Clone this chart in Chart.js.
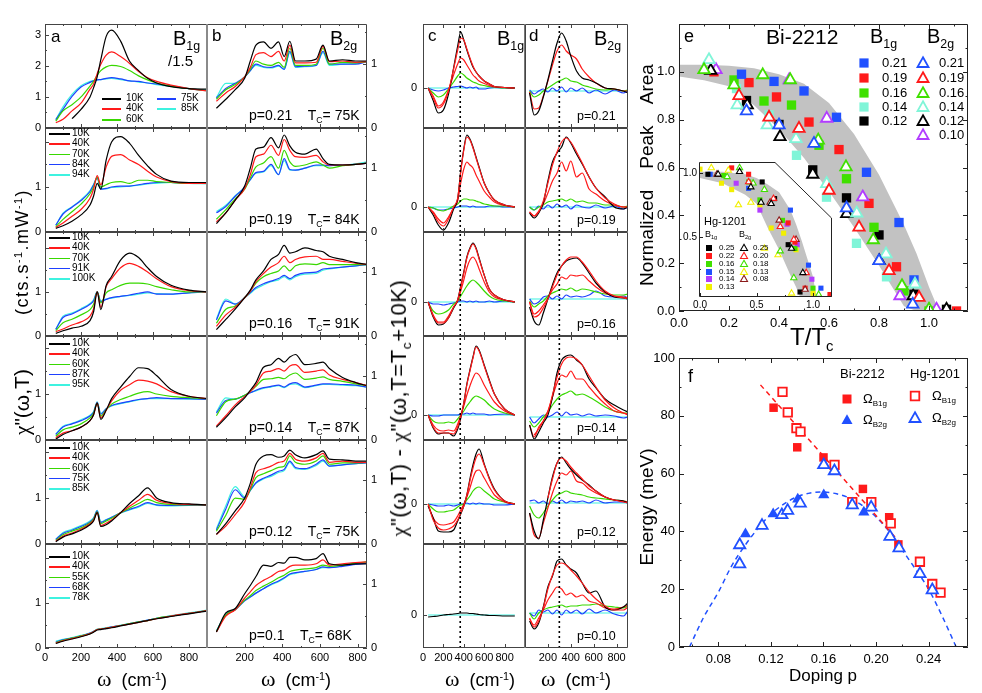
<!DOCTYPE html>
<html>
<head>
<meta charset="utf-8">
<script src="https://cdn.jsdelivr.net/npm/chart.js@4.4.1/dist/chart.umd.min.js"></script>
<style>
body { margin: 0; background: #fff; font-family: "Liberation Sans", Arial, sans-serif; }
#fig { position: relative; width: 982px; height: 693px; overflow: hidden; background: #fff; }
#fig canvas { position: absolute; }
.t { position: absolute; white-space: nowrap; color: #000; line-height: 1; }
</style>
</head>
<body>
<div id="fig"></div>
<script>
// ---- spectra x grids (cm-1) ----
const aX = [60,100,150,200,250,270,290,310,340,370,420,470,520,570,620,700,800,900];
const bX = [50,100,150,200,230,260,300,340,380,410,440,470,520,580,616,650,720,790,850];
const cX = [50,100,150,200,250,300,340,370,400,430,460,490,520,550,600,650,700,800,900];
const dX = [40,80,120,160,200,240,280,320,360,400,450,500,560,620,700,780,860,900];

// temperatures per row and doping labels
const aTemps = [['10K','40K','60K','75K','85K'], ['10K','40K','70K','84K','94K'], ['10K','40K','70K','91K','100K'],
                ['10K','40K','60K','87K','95K'], ['10K','40K','60K','75K','85K'], ['10K','40K','55K','68K','78K']];
const bDoping = ['0.21','0.19','0.16','0.14','0.12','0.1'];
const bTc = ['75K','84K','91K','87K','75K','68K'];
const dDoping = ['0.21','0.19','0.16','0.14','0.12','0.10'];

// panel a: B1g chi'' (10K, 40K, mid, ~Tc, >Tc)
const a1 = [
  [null,null,0.3,0.6,1.0,1.3,1.65,2.2,2.95,3.15,2.8,2.15,1.85,1.6,1.45,1.33,1.27,1.25],
  [0.17,0.28,0.55,0.8,1.25,1.42,1.75,2.05,2.35,2.45,2.3,2.08,1.82,1.62,1.5,1.38,1.27,1.2],
  [0.22,0.55,0.75,1.0,1.35,1.5,1.7,1.85,1.97,2.02,1.98,1.85,1.68,1.55,1.45,1.35,1.27,1.2],
  [0.27,0.6,1.02,1.32,1.47,1.52,1.55,1.56,1.6,1.62,1.58,1.52,1.5,1.45,1.42,1.35,1.27,1.2],
  [0.27,0.68,1.08,1.36,1.5,1.53,1.55,1.56,1.58,1.6,1.56,1.52,1.48,1.45,1.4,1.34,1.27,1.22]];
const a2 = [
  [0.08,0.14,0.24,0.38,0.6,0.8,1.08,0.95,1.6,2.0,2.12,1.97,1.7,1.47,1.28,1.13,1.1,1.1],
  [0.1,0.2,0.35,0.5,0.75,0.95,1.25,1.05,1.45,1.68,1.72,1.6,1.5,1.35,1.22,1.12,1.08,1.08],
  [0.12,0.28,0.45,0.62,0.85,1.0,1.22,1.0,1.05,1.1,1.12,1.08,1.15,1.15,1.12,1.1,1.08,1.08],
  [0.15,0.4,0.55,0.7,0.9,1.05,1.2,0.95,0.97,1.0,1.02,1.02,1.05,1.08,1.1,1.1,1.08,1.08],
  [0.15,0.42,0.56,0.72,0.92,1.06,1.2,0.97,0.96,0.99,1.0,1.02,1.04,1.07,1.08,1.1,1.08,1.07]];
const a3 = [
  [0.06,0.12,0.18,0.22,0.35,0.55,1.0,0.6,1.15,1.35,1.72,1.88,1.78,1.55,1.35,1.15,1.04,1.0],
  [0.1,0.16,0.25,0.32,0.45,0.62,1.0,0.65,1.12,1.3,1.55,1.65,1.58,1.45,1.3,1.12,1.03,1.0],
  [0.12,0.3,0.38,0.48,0.6,0.72,1.0,0.75,0.98,1.05,1.15,1.2,1.2,1.18,1.12,1.05,1.0,1.0],
  [0.15,0.42,0.5,0.6,0.72,0.8,1.0,0.78,0.83,0.87,0.9,0.93,0.97,1.0,0.95,0.95,0.98,1.0],
  [0.15,0.45,0.52,0.62,0.74,0.82,1.0,0.8,0.84,0.86,0.9,0.92,0.95,0.98,0.96,0.95,0.98,1.0]];
const a4 = [
  [0.02,0.12,0.2,0.28,0.42,0.55,0.8,0.45,0.65,0.9,1.15,1.38,1.57,1.55,1.4,1.1,0.95,0.9],
  [0.05,0.15,0.2,0.28,0.42,0.55,0.8,0.48,0.65,0.85,1.08,1.2,1.3,1.28,1.22,1.05,0.95,0.9],
  [0.08,0.22,0.28,0.35,0.48,0.58,0.8,0.52,0.66,0.78,0.88,0.95,1.02,1.05,1.0,0.95,0.92,0.9],
  [0.12,0.28,0.35,0.42,0.52,0.6,0.82,0.56,0.68,0.75,0.8,0.84,0.88,0.9,0.92,0.9,0.9,0.88],
  [0.13,0.3,0.36,0.44,0.54,0.62,0.83,0.58,0.68,0.74,0.79,0.83,0.87,0.9,0.9,0.9,0.89,0.88]];
const a5 = [
  [0.05,0.15,0.22,0.3,0.42,0.5,0.68,0.38,0.42,0.5,0.68,0.88,1.05,1.22,1.0,0.9,0.87,0.85],
  [0.06,0.17,0.24,0.32,0.44,0.52,0.68,0.4,0.45,0.52,0.68,0.82,0.95,1.08,0.95,0.88,0.86,0.85],
  [0.08,0.2,0.28,0.35,0.46,0.54,0.7,0.44,0.5,0.56,0.68,0.78,0.88,0.97,0.9,0.86,0.85,0.85],
  [0.1,0.23,0.3,0.38,0.48,0.56,0.72,0.47,0.52,0.58,0.68,0.75,0.82,0.9,0.85,0.84,0.84,0.84],
  [0.1,0.25,0.32,0.4,0.5,0.57,0.73,0.48,0.53,0.58,0.67,0.74,0.8,0.88,0.84,0.83,0.84,0.84]];
const a6 = [
  [0.1,0.15,0.2,0.25,0.31,0.35,0.4,0.41,0.43,0.45,0.49,0.53,0.57,0.61,0.65,0.7,0.76,0.82],
  [0.11,0.16,0.21,0.26,0.32,0.36,0.41,0.42,0.44,0.46,0.5,0.53,0.57,0.61,0.65,0.71,0.77,0.83],
  [0.12,0.17,0.22,0.27,0.32,0.36,0.41,0.42,0.44,0.46,0.5,0.54,0.58,0.61,0.66,0.71,0.77,0.83],
  [0.13,0.18,0.22,0.27,0.33,0.37,0.41,0.42,0.44,0.47,0.5,0.54,0.58,0.62,0.66,0.71,0.77,0.83],
  [0.15,0.19,0.23,0.28,0.33,0.37,0.42,0.43,0.45,0.47,0.51,0.54,0.58,0.62,0.66,0.72,0.78,0.84]];

// panel b: B2g chi''
const b1 = [
  [0.31,0.45,0.6,0.78,1.05,1.3,1.35,1.25,1.35,1.12,1.36,1.05,1.05,1.08,1.3,1.05,1.07,1.05,1.05],
  [0.42,0.55,0.65,0.8,0.95,1.15,1.18,1.12,1.2,1.05,1.3,1.02,1.02,1.03,1.28,1.04,1.05,1.03,1.04],
  [0.45,0.6,0.68,0.8,0.92,1.05,1.0,0.98,1.03,0.95,1.25,0.98,0.98,1.0,1.25,1.0,1.03,1.02,1.04],
  [0.47,0.62,0.7,0.8,0.9,1.0,0.96,0.95,0.98,0.92,1.2,0.96,0.97,0.98,1.2,1.0,1.0,1.0,1.04],
  [0.48,0.7,0.7,0.8,0.9,0.98,0.95,0.94,0.97,0.92,1.18,0.95,0.96,0.98,1.18,0.98,1.0,1.01,1.05]];
const b2 = [
  [0.13,0.3,0.5,0.72,1.0,1.3,1.33,1.48,1.32,1.52,1.35,1.25,1.22,1.3,1.15,1.06,1.05,1.06,1.08],
  [0.16,0.3,0.5,0.68,0.9,1.18,1.22,1.36,1.2,1.45,1.28,1.18,1.17,1.2,1.1,1.05,1.05,1.06,1.08],
  [0.2,0.35,0.52,0.67,0.85,1.02,1.08,1.18,1.0,1.28,1.1,1.03,1.05,1.1,1.05,1.0,1.04,1.06,1.08],
  [0.3,0.4,0.56,0.7,0.82,0.93,0.95,1.06,0.9,1.15,0.98,0.97,1.0,1.05,1.05,1.04,1.05,1.06,1.08],
  [0.32,0.42,0.57,0.7,0.82,0.92,0.94,1.04,0.9,1.12,0.97,0.97,1.0,1.04,1.04,1.04,1.05,1.07,1.1]];
const b3 = [
  [0.1,0.26,0.42,0.6,0.72,0.88,1.02,1.2,1.28,1.42,1.3,1.32,1.38,1.34,1.32,1.25,1.2,1.15,1.12],
  [0.15,0.33,0.45,0.6,0.7,0.85,0.98,1.08,1.15,1.25,1.15,1.2,1.24,1.25,1.2,1.2,1.17,1.14,1.12],
  [0.2,0.42,0.47,0.6,0.7,0.83,0.93,0.98,1.02,1.1,1.02,1.1,1.13,1.12,1.15,1.12,1.12,1.12,1.12],
  [0.25,0.55,0.5,0.6,0.68,0.76,0.82,0.86,0.9,0.95,0.9,0.95,0.99,1.0,1.05,1.06,1.08,1.1,1.12],
  [0.27,0.58,0.5,0.6,0.67,0.74,0.8,0.85,0.88,0.93,0.88,0.93,0.97,0.98,1.03,1.05,1.08,1.1,1.12]];
const b4 = [
  [0.2,0.35,0.52,0.66,0.78,0.9,1.14,1.18,1.28,1.22,1.3,1.34,1.18,1.2,1.22,1.12,0.98,0.9,0.85],
  [0.22,0.38,0.55,0.68,0.76,0.86,1.05,1.08,1.12,1.08,1.16,1.18,1.06,1.08,1.1,1.02,0.95,0.9,0.85],
  [0.38,0.6,0.64,0.7,0.76,0.84,0.95,0.96,0.98,0.96,1.02,1.05,0.95,0.97,0.99,0.95,0.92,0.88,0.85],
  [0.42,0.62,0.64,0.7,0.74,0.78,0.82,0.84,0.86,0.83,0.88,0.9,0.83,0.86,0.88,0.88,0.87,0.86,0.83],
  [0.44,0.66,0.64,0.7,0.74,0.77,0.81,0.83,0.85,0.82,0.87,0.88,0.82,0.85,0.87,0.87,0.86,0.85,0.83]];
const b5 = [
  [0.15,0.32,0.52,0.72,0.95,1.25,1.38,1.4,1.36,1.38,1.47,1.4,1.35,1.4,1.46,1.33,1.32,1.3,1.3],
  [0.15,0.28,0.46,0.66,0.88,1.12,1.18,1.22,1.28,1.3,1.42,1.33,1.3,1.35,1.42,1.28,1.3,1.28,1.28],
  [0.2,0.45,0.72,0.7,0.85,1.04,1.1,1.15,1.2,1.22,1.38,1.28,1.25,1.3,1.38,1.25,1.27,1.27,1.28],
  [0.22,0.55,0.85,0.72,0.84,0.96,1.03,1.08,1.14,1.17,1.3,1.2,1.18,1.25,1.32,1.22,1.24,1.26,1.27],
  [0.24,0.6,0.9,0.74,0.84,0.95,1.02,1.06,1.12,1.15,1.28,1.18,1.17,1.23,1.3,1.22,1.24,1.26,1.28]];
const b6 = [
  [0.25,0.55,0.62,0.85,0.98,1.12,1.3,1.28,1.34,1.33,1.42,1.42,1.38,1.4,1.48,1.32,1.3,1.32,1.32],
  [0.25,0.5,0.6,0.78,0.88,0.98,1.06,1.12,1.2,1.22,1.28,1.3,1.3,1.32,1.38,1.3,1.32,1.34,1.35],
  [0.26,0.52,0.6,0.75,0.82,0.9,0.97,1.03,1.1,1.14,1.2,1.22,1.24,1.26,1.3,1.28,1.3,1.33,1.35],
  [0.26,0.52,0.6,0.74,0.8,0.86,0.93,1.0,1.05,1.1,1.16,1.18,1.2,1.23,1.27,1.26,1.28,1.31,1.33],
  [0.27,0.53,0.61,0.75,0.8,0.86,0.93,0.99,1.04,1.09,1.15,1.17,1.2,1.23,1.26,1.26,1.29,1.32,1.35]];

// panel c: B1g difference spectra (black 10K, red fit, red 40K, green, blue)
const c1 = [
  [0,-1.25,-2.5,-2.2,-0.6,2.0,4.2,5.6,4.8,3.8,2.9,2.1,1.6,1.2,0.7,0.4,0.15,0.05,0],
  [0,-1.0,-2.0,-1.6,-0.3,1.9,3.8,5.0,4.8,3.9,3.0,2.2,1.6,1.2,0.7,0.4,0.15,0.05,0],
  [0,-0.8,-1.8,-1.4,-0.2,1.3,2.4,3.0,2.8,2.3,1.8,1.3,1.0,0.7,0.45,0.25,0.1,0.05,0],
  [0,-0.5,-0.9,-0.7,-0.1,0.6,1.2,1.5,1.3,1.0,0.8,0.6,0.5,0.35,0.25,0.15,0.1,0,0],
  [0,-0.2,-0.3,-0.2,0,0.1,0.15,0.2,0.1,0,0.1,0,0.1,-0.1,-0.1,0,0.05,0,0]];
const c2 = [
  [0,-0.8,-1.8,-2.3,-1.6,-0.2,0.8,3.6,5.8,7.2,6.8,6.0,5.0,4.0,2.4,1.4,0.7,0.2,0],
  [0,-0.6,-1.5,-1.9,-1.2,0,0.9,3.5,5.7,7.0,6.7,5.9,4.9,3.9,2.4,1.4,0.7,0.2,0],
  [0,-0.5,-1.2,-1.6,-1.0,-0.1,0.6,2.4,3.8,4.5,4.2,3.9,3.2,2.6,1.6,1.0,0.5,0.15,0],
  [0,-0.1,-0.3,-0.4,-0.2,0.1,0.3,0.6,0.8,0.8,0.7,0.7,0.6,0.5,0.3,0.2,0.1,0.1,0],
  [0,-0.1,-0.3,-0.3,-0.2,-0.1,0,0.1,0.1,0.1,0,0.1,0,0,0,0.1,0.1,0,0]];
const c3 = [
  [0,-1.5,-2.3,-2.2,-1.6,-0.6,0.2,1.6,3.0,4.5,5.4,5.9,5.4,4.4,2.7,1.3,0.7,0.2,0],
  [0,-1.4,-2.1,-2.1,-1.6,-0.5,0.2,1.5,2.9,4.4,5.3,5.8,5.3,4.3,2.7,1.3,0.7,0.2,0],
  [0,-1.3,-2.0,-2.0,-1.4,-0.5,0.1,1.1,2.2,3.4,4.2,4.5,4.1,3.3,2.0,1.0,0.5,0.2,0],
  [0,-0.9,-1.2,-1.1,-0.8,-0.2,0.1,0.6,1.1,1.6,2.0,2.2,2.0,1.7,1.1,0.6,0.3,0.1,0],
  [0,-0.2,-0.2,-0.3,-0.2,-0.1,0,0.1,0.1,0,0.1,0,0.1,0,0,0.1,0,0.1,0]];
const c4 = [
  [0,-1.3,-1.9,-1.8,-1.8,-2.1,-1.4,-0.3,1.2,3.1,4.5,5.8,6.9,6.5,5.0,3.5,2.1,0.6,0],
  [0,-1.2,-1.8,-1.8,-1.8,-1.9,-1.2,-0.2,1.2,3.0,4.4,5.7,6.8,6.4,4.9,3.4,2.1,0.6,0],
  [0,-1.0,-1.5,-1.6,-1.5,-1.6,-0.9,0,0.9,2.0,2.9,3.7,4.2,4.0,3.0,2.1,1.3,0.4,0],
  [0,-0.6,-0.8,-0.8,-0.7,-0.8,-0.4,0,0.4,0.9,1.3,1.7,1.9,1.8,1.5,1.0,0.6,0.2,0],
  [0,-0.1,-0.1,0,0,0,0,0.1,0.1,0.2,0.1,0.2,0.1,0.1,0.1,0,0.05,0.1,0]];
const c5 = [
  [-0.2,-1.4,-2.7,-2.8,-2.8,-2.6,-1.7,-1.0,-0.2,0.9,2.5,3.9,5.0,5.5,4.0,2.6,1.5,0.3,0],
  [0,-1.6,-2.4,-2.6,-2.5,-2.2,-1.6,-0.9,-0.2,0.9,2.3,3.6,4.6,5.0,3.9,2.5,1.4,0.3,0],
  [0,-1.4,-2.0,-2.1,-2.0,-1.8,-1.2,-0.6,0,0.7,1.6,2.6,3.3,3.4,2.6,1.7,0.9,0.2,0],
  [0,-0.5,-0.8,-0.8,-0.7,-0.6,-0.3,-0.1,0,0.4,0.8,1.3,1.6,1.7,1.3,0.9,0.5,0.2,0],
  [0,-0.1,-0.2,-0.2,-0.1,-0.2,-0.1,0,0,0.1,0,0.1,0,0.1,0,0,-0.1,-0.1,0]];
const c6 = [
  [-0.2,-0.15,-0.1,0,0.05,0.1,0.15,0.2,0.2,0.2,0.15,0.15,0.1,0.05,0,-0.05,-0.05,-0.1,-0.1],
  null, null, null, null];

// panel d: B2g difference spectra (black 10K, red fit, red 40K, green, blue)
const d1 = [
  [-0.2,-2.4,-2.0,-0.6,1.1,3.0,4.8,5.8,5.0,3.5,2.0,1.3,1.1,0.8,0.3,0.2,0,-0.2],
  null,
  [-0.1,-1.8,-1.7,-0.5,1.0,2.6,4.0,4.6,4.0,3.6,3.2,2.2,1.4,0.8,0.3,0.2,0,0],
  [0,-0.6,-0.4,0,0.3,0.6,0.9,1.1,1.3,1.0,0.9,0.6,0.4,0.2,0.1,0.2,0,0.1],
  [0.1,-0.3,0,0.2,-0.1,0.3,0,0.4,-0.1,0.3,0,0.3,-0.2,0.1,-0.3,0.1,-0.2,0]];
const d2 = [
  [-0.6,-1.1,-0.6,0.4,2.6,4.5,5.4,6.0,7.0,6.4,5.3,4.3,3.0,1.9,1.0,0,-0.2,0],
  [-0.5,-0.9,-0.5,0.6,2.4,4.2,5.5,6.5,6.9,6.5,5.5,4.4,3.0,1.9,0.9,0.3,0,0],
  [-0.5,-0.9,-0.4,0.3,1.4,2.6,3.4,4.5,3.6,4.6,3.0,3.4,1.8,1.3,0.6,0.2,0,0],
  [0,-0.3,0,0.2,0.5,0.6,0.7,0.8,0.6,0.8,0.5,0.6,0.4,0.4,0.2,0.2,0,0.1],
  [0,-0.3,0.1,-0.2,0.2,-0.1,0.3,0,0.2,-0.2,0.2,0,-0.1,0.2,-0.1,0.1,-0.2,0]];
const d3 = [
  [-0.8,-2.2,-2.6,-1.4,0,1.4,2.6,3.3,3.8,4.0,4.1,3.6,2.6,1.6,0.7,0.2,0.1,0],
  [-0.3,-1.8,-1.6,-0.9,0,1.2,2.4,3.3,3.9,4.2,4.2,3.7,2.8,1.8,0.8,0.3,0.1,0],
  [-0.3,-1.5,-1.2,-0.6,0.1,0.9,1.5,2.2,2.0,2.4,2.3,2.4,1.8,1.2,0.6,0.3,0.2,0.1],
  [-0.2,-0.8,-0.5,-0.2,0.3,0.6,0.8,1.0,0.9,1.1,0.8,1.0,0.9,0.7,0.5,0.4,0.4,0.5],
  [0,-0.5,-0.3,0.2,0.3,0,0.3,0,0.4,0.2,0.3,0.2,0.4,0.8,0.3,0.2,0.3,0.1]];
const d4 = [
  [-0.8,-2.2,-1.5,-0.6,0.2,2.0,4.4,5.7,6.1,6.2,5.7,5.2,3.8,2.9,1.8,1.2,0.7,0.5],
  [null,-1.8,-1.2,-0.4,0.5,2.2,4.0,5.3,5.9,6.0,5.8,5.2,4.1,3.0,1.7,0.9,0.4,0.2],
  [-0.8,-2.0,-1.0,-0.4,0.6,2.0,3.4,4.2,4.0,4.6,3.8,3.8,3.0,2.2,1.3,0.6,0.4,0.3],
  [-0.4,-1.0,-0.6,0,0.5,1.2,1.8,2.2,2.4,2.6,2.2,2.3,2.0,1.6,1.0,0.6,0.4,0.4],
  [0,-0.6,-0.2,0.2,0,0.2,0.5,0.1,0.5,0.2,0.3,0.1,0.3,0.1,0.2,0.1,-0.1,0]];
const d5 = [
  [-1.0,-2.8,-3.6,-1.7,0.5,2.6,4.0,4.6,4.0,3.4,2.8,2.3,1.8,1.2,0.6,0.3,0.2,0],
  [null,null,null,null,0.5,2.4,4.0,4.5,4.2,3.6,3.0,2.4,1.7,1.2,0.6,0.3,0.1,0],
  [-1.0,-3.2,-3.5,-2.0,-0.5,1.0,2.2,3.0,2.8,3.2,2.2,2.0,1.4,1.0,0.6,0.3,0.2,0.1],
  [-0.3,-1.2,-1.5,-1.0,-0.3,0.3,0.8,1.0,1.2,1.0,0.9,0.8,0.6,0.5,0.4,0.3,0.2,0.1],
  [0.2,0.3,0,0.2,-0.1,0.2,0,0.3,0,0.2,0.1,0.2,0,0.3,0,0.1,0.1,0]];
const d6 = [
  [-0.8,-1.6,-1.0,0.6,2.6,3.7,5.2,5.4,4.8,4.4,4.0,3.0,2.0,2.2,0.6,0.3,0.6,1.0],
  [-0.5,-1.4,-0.8,0.5,2.4,3.8,4.8,5.0,4.8,4.3,3.7,3.0,2.1,1.4,0.7,0.3,0.3,0.6],
  [-0.6,-1.2,-0.5,0.3,1.3,2.0,2.6,2.4,1.8,2.0,1.6,1.8,1.2,1.0,0.5,0.4,0.6,0.8],
  [0,-0.6,0,0.3,0.5,0.6,0.7,0.8,0.6,0.7,0.7,0.8,0.8,0.9,0.7,0.6,0.5,0.7],
  [0,-0.3,0.3,0.1,0.3,-0.1,0.3,-0.2,0.3,0,0.3,-0.1,0.4,0,0.3,-0.1,-0.3,0.2]];
const cPeak = 365, dPeak = 300;

// panel e: normalized peak area vs T/Tc (Bi-2212)
const eBandT = [0,0.1,0.2,0.3,0.4,0.5,0.6,0.7,0.8,0.9,0.95,1.0,1.04];
const eBandLow = [0.98,0.965,0.94,0.86,0.76,0.64,0.50,0.35,0.19,0.02,0,0,0];
const eBandHigh = [1.03,1.03,1.025,1.015,0.99,0.95,0.87,0.74,0.57,0.36,0.24,0.1,0];
const eDopB1g = ['0.21','0.19','0.16','0.14','0.12'];
const eDopB2g = ['0.21','0.19','0.16','0.14','0.12','0.10'];
const eB1g21 = [[0.25,0.99],[0.38,0.96],[0.50,0.92],[0.63,0.81],[0.75,0.58],[0.88,0.37],[0.94,0.13]];
const eB1g19 = [[0.14,1.0],[0.28,0.955],[0.39,0.895],[0.52,0.79],[0.64,0.675],[0.76,0.45],[0.87,0.185],[1.11,0]];
const eB1g16 = [[0.22,0.966],[0.34,0.878],[0.45,0.861],[0.56,0.693],[0.67,0.553],[0.78,0.35],[0.90,0.084],[1.0,0]];
const eB1g14 = [[0.23,0.93],[0.36,0.82],[0.47,0.651],[0.59,0.476],[0.71,0.283],[0.83,0.143]];
const eB1g12 = [[0.27,0.88],[0.40,0.78],[0.535,0.59],[0.67,0.473],[0.80,0.318],[0.94,0.07],[1.07,0.007]];
const eB2g21 = [[0.27,0.836],[0.40,0.777],[0.54,0.70],[0.67,0.43],[0.80,0.21],[0.935,0.028]];
const eB2g19 = [[0.24,0.90],[0.36,0.81],[0.48,0.763],[0.60,0.504],[0.72,0.35],[0.84,0.168],[0.96,0.056]];
const eB2g16 = [[0.10,1.008],[0.22,0.945],[0.335,0.987],[0.445,0.966],[0.557,0.714],[0.668,0.602],[0.777,0.297],[0.892,0.105],[1.0,0.007]];
const eB2g14 = [[0.12,1.05],[0.233,0.861],[0.353,0.777],[0.468,0.72],[0.591,0.532],[0.711,0.409],[0.828,0.238],[0.944,0.112]];
const eB2g12 = [[0.127,1.005],[0.273,0.861],[0.404,0.728],[0.535,0.571],[0.671,0.406],[0.801,0.21],[0.937,0.063],[1.07,0.007]];
const eB2g10 = [[0.148,1.008],[0.441,0.966],[0.591,0.805],[0.735,0.476],[0.884,0.063],[1.03,0.007]];

// inset: Hg-1201
const hgBandT = [0,0.2,0.4,0.5,0.6,0.7,0.8,0.85,0.9,0.95,1.0,1.03];
const hgBandLow = [0.96,0.92,0.83,0.76,0.57,0.40,0.20,0.11,0,0,0,0];
const hgBandHigh = [1.01,1.01,0.99,0.96,0.91,0.85,0.71,0.60,0.47,0.33,0.19,0.03];
const hgDopB1g = ['0.25','0.22','0.16','0.15','0.14','0.13'];
const hgDopB2g = ['0.25','0.20','0.18','0.13','0.08'];
const hgB1g25 = [[0.07,0.99],[0.55,0.93],[0.66,0.80],[0.78,0.44],[0.885,0.07]];
const hgB1g22 = [[0.28,1.04],[0.43,0.99],[0.78,0.61],[0.84,0.46],[0.93,0.10],[1.15,0.05]];
const hgB1g16 = [[0.21,0.98],[0.43,0.93],[0.53,0.79],[0.73,0.63],[0.84,0.41],[1.0,0.10]];
const hgB1g15 = [[0.09,0.99],[0.43,0.88],[0.80,0.71],[0.96,0.28],[1.07,0.10]];
const hgB1g14 = [[0.32,0.92],[0.53,0.71],[0.77,0.60],[0.86,0.44],[0.99,0.17]];
const hgB1g13 = [[0,1.03],[0.19,0.92],[0.28,0.87],[0.53,0.75],[0.63,0.57],[0.74,0.53],[0.85,0.40],[1.0,0.06]];
const hgB2g25 = [[0.16,0.99],[0.35,1.01],[0.45,0.89],[0.54,0.77],[0.63,0.76],[0.81,0.41],[0.91,0.22]];
const hgB2g20 = [[0.43,0.93],[0.65,0.80],[0.71,0.58],[0.83,0.48],[0.94,0.22]];
const hgB2g18 = [[0.24,0.97],[0.35,1.04],[0.47,0.92],[0.57,0.87],[0.71,0.39],[0.83,0.18],[1.05,0.05]];
const hgB2g13 = [[0.10,1.04],[0.25,1.02],[0.34,0.75],[0.45,0.77],[0.57,0.41],[0.69,0.36],[0.81,0.06]];
const hgB2g08 = [[0.15,0.99],[0.62,0.77],[0.70,0.63],[0.85,0.48],[0.93,0.09]];

// panel f: energy vs doping
const fBiB1g = [[0.122,82.8],[0.140,69.1],[0.160,65.6],[0.190,54.7],[0.210,44.9],[0.217,35.5]];
const fBiB2g = [[0.1006,39.1],[0.1217,46.0],[0.1404,51.1],[0.1602,52.6],[0.1907,46.6]];
const fHgB1g = [[0.1288,88.3],[0.1328,81.2],[0.1394,75.7],[0.1425,74.5],[0.1684,63.0],[0.1819,50.1],[0.1964,50.1],
                [0.2112,42.8],[0.2334,29.5],[0.2428,21.8],[0.2491,18.8]];
const fHgB2g = [[0.0962,28.7],[0.0962,35.3],[0.1132,42.0],[0.1283,45.7],[0.1327,47.2],[0.1423,49.7],[0.1602,63.0],
                [0.1683,60.9],[0.1819,49.1],[0.1963,48.3],[0.2106,38.2],[0.2175,34.2],[0.2334,25.3],[0.2428,19.7]];
const fFitB1g = [[0.112,90.7],[0.22,35.2]];
const fFitB2g = [[0.058,0],[0.069,10.5],[0.08,19],[0.09,28],[0.10,35],[0.11,41],[0.12,46],[0.13,49.5],[0.14,52],[0.15,53.3],
                 [0.16,53.6],[0.17,53],[0.18,51.5],[0.19,48.8],[0.20,45],[0.21,40],[0.22,33.5],[0.23,27],[0.24,20],[0.25,11],[0.261,0]];

// ---------------- drawing ----------------
const fig = document.getElementById('fig');
const SPEC = ['#000000', '#ff1a1a', '#38d800', '#1e40ff', '#3df2e0'];
const DIFF = ['#000000', '#ff1a1a', '#ff1a1a', '#38d800', '#1e40ff'];
const BLUE = '#2050ff', RED = '#ff1a1a', GREEN = '#40e000', AQUA = '#80f5d8', PURPLE = '#b23cff';
const YELLOW = '#f2f000', BROWN = '#8b1a1a', BLACK = '#000000';
const PAD = 30;
const ROW_T = [24, 128, 232, 336, 440, 544], ROW_H = 104;
const aYmax = [3.35, 2.31, 2.36, 2.26, 2.26, 2.31];
const cYr = [[-4.0, 6.4], [-2.5, 7.9], [-3.4, 7.0], [-2.5, 7.9], [-4.0, 6.4], [-3.3, 7.1]];
const dYr = [[-3.7, 6.7], [-2.5, 7.9], [-3.7, 6.7], [-2.3, 8.1], [-4.1, 6.3], [-3.5, 6.9]];

const sub = s => '<span style="font-size:.62em;vertical-align:-.4em">' + s + '</span>';
const sup = s => '<span style="font-size:.6em;vertical-align:.6em">' + s + '</span>';

function txt(x, y, html, css) {
  const d = document.createElement('div');
  d.className = 't';
  d.style.left = x + 'px';
  d.style.top = y + 'px';
  d.innerHTML = html;
  if (css) d.style.cssText += css;
  fig.appendChild(d);
  return d;
}
function rot(cx, cy, html, css) {
  return txt(cx, cy, html, 'transform:translate(-50%,-50%) rotate(-90deg);' + (css || ''));
}

function mark(ctx, shape, x, y, s, col, open) {
  ctx.beginPath();
  if (shape === 'sq') ctx.rect(x - s, y - s, 2 * s, 2 * s);
  else { ctx.moveTo(x, y - s * 1.15); ctx.lineTo(x + s * 1.1, y + s * 0.8); ctx.lineTo(x - s * 1.1, y + s * 0.8); ctx.closePath(); }
  if (open) { ctx.fillStyle = '#fff'; ctx.fill(); ctx.lineWidth = s > 4 ? 1.8 : 1.1; ctx.strokeStyle = col; ctx.stroke(); }
  else { ctx.fillStyle = col; ctx.fill(); }
}

function insetPath(ctx, a, cut) {
  ctx.beginPath();
  ctx.moveTo(a.left + 0.5, a.bottom - 0.5);
  ctx.lineTo(a.left + 0.5, a.top + 0.5);
  ctx.lineTo(a.left + cut[0], a.top + 0.5);
  ctx.lineTo(a.right - 0.5, a.top + cut[1]);
  ctx.lineTo(a.right - 0.5, a.bottom - 0.5);
  ctx.closePath();
}

// frame, inward ticks, tick labels and legend markers
const framePlugin = {
  id: 'frame',
  beforeDraw(chart, args, o) {
    if (!o.inset) return;
    const ctx = chart.ctx;
    ctx.save();
    insetPath(ctx, chart.chartArea, o.inset);
    ctx.fillStyle = '#fff';
    ctx.fill();
    ctx.restore();
  },
  afterDraw(chart, args, o) {
    const { ctx, chartArea: a, scales: { x, y } } = chart;
    ctx.save();
    ctx.strokeStyle = o.col || '#333';
    ctx.lineWidth = 1;
    if (o.inset) insetPath(ctx, a, o.inset);
    else { ctx.beginPath(); ctx.rect(a.left + 0.5, a.top + 0.5, a.width - 1, a.height - 1); }
    ctx.stroke();
    const sides = o.sides || 'lrtb';
    const inX = v => v >= x.min - 1e-9 && v <= x.max + 1e-9;
    const inY = v => v >= y.min - 1e-9 && v <= y.max + 1e-9;
    const tl = o.tl || 4;
    ctx.beginPath();
    const xt = (vals, len) => (vals || []).filter(inX).forEach(v => {
      const p = Math.round(x.getPixelForValue(v)) + 0.5;
      if (sides.includes('b')) { ctx.moveTo(p, a.bottom); ctx.lineTo(p, a.bottom - len); }
      if (sides.includes('t')) { ctx.moveTo(p, a.top); ctx.lineTo(p, a.top + len); }
    });
    const yt = (vals, len) => (vals || []).filter(inY).forEach(v => {
      const p = Math.round(y.getPixelForValue(v)) + 0.5;
      if (sides.includes('l')) { ctx.moveTo(a.left, p); ctx.lineTo(a.left + len, p); }
      if (sides.includes('r')) { ctx.moveTo(a.right, p); ctx.lineTo(a.right - len, p); }
    });
    xt(o.xMaj, tl); xt(o.xMin, tl / 2); yt(o.yMaj, tl); yt(o.yMin, tl / 2);
    ctx.stroke();
    ctx.fillStyle = '#000';
    ctx.font = o.font || '11px "Liberation Sans"';
    ctx.textAlign = 'center';
    ctx.textBaseline = 'top';
    (o.xLab || []).forEach(([v, s]) => ctx.fillText(s, x.getPixelForValue(v), a.bottom + (o.xOff || 4)));
    ctx.textBaseline = 'middle';
    ctx.textAlign = o.yRight ? 'left' : 'right';
    (o.yLab || []).forEach(([v, s]) => ctx.fillText(s, o.yRight ? a.right + 4 : a.left - (o.yOff || 4), y.getPixelForValue(v)));
    (o.marks || []).forEach(m => mark(ctx, m[0], m[1] - o.org[0], m[2] - o.org[1], m[3], m[4], m[5]));
    ctx.restore();
  }
};

function plot(box, datasets, range, frame) {
  const c = document.createElement('canvas');
  const W = box.w + 2 * PAD, H = box.h + 2 * PAD;
  c.width = W; c.height = H;
  c.style.left = (box.l - PAD) + 'px';
  c.style.top = (box.t - PAD) + 'px';
  c.style.width = W + 'px';
  c.style.height = H + 'px';
  fig.appendChild(c);
  frame.org = [box.l - PAD, box.t - PAD];
  return new Chart(c, {
    type: 'line',
    data: { datasets },
    options: {
      responsive: false, animation: false, devicePixelRatio: 1,
      layout: { padding: PAD },
      plugins: { legend: { display: false }, tooltip: { enabled: false }, frame },
      scales: {
        x: { type: 'linear', display: false, min: range.x[0], max: range.x[1] },
        y: { type: 'linear', display: false, min: range.y[0], max: range.y[1] }
      },
      elements: { point: { radius: 0 }, line: { borderWidth: 1.2 } }
    },
    plugins: [framePlugin]
  });
}

const pts = arr => arr.map(([x, y]) => ({ x, y }));
function curve(xs, ys, color, order, extra) {
  return Object.assign({
    data: xs.map((x, i) => ({ x, y: ys[i] })), borderColor: color, borderWidth: 1.2,
    pointRadius: 0, fill: false, cubicInterpolationMode: 'monotone', order
  }, extra || {});
}
function vline(v, yr) {
  return { data: [{ x: v, y: yr[0] }, { x: v, y: yr[1] }], borderColor: '#000', borderWidth: 1.6,
    borderDash: [2, 3], pointRadius: 0, fill: false, order: -1 };
}
function zeroLine(x0, x1) {
  return { data: [{ x: x0, y: 0 }, { x: x1, y: 0 }], borderColor: '#3df2e0', borderWidth: 1.2,
    pointRadius: 0, fill: false, order: 10 };
}
function pointSet(arr, shape, col, r, open, order) {
  return { data: pts(arr), showLine: false, pointStyle: shape, pointRadius: r,
    pointBackgroundColor: open ? '#fff' : col, pointBorderColor: col,
    pointBorderWidth: open ? (r > 5 ? 1.8 : 1.1) : 0, order };
}
function band(ts, low, high, order) {
  return [
    { data: ts.map((t, i) => ({ x: t, y: low[i] })), borderColor: 'transparent', borderWidth: 0, pointRadius: 0, fill: false, order },
    { data: ts.map((t, i) => ({ x: t, y: high[i] })), borderColor: 'transparent', borderWidth: 0, pointRadius: 0,
      fill: '-1', backgroundColor: '#c2c2c2', order: order - 1 }
  ];
}

// ---- spectra panels a, b, c, d ----
const aSets = [a1, a2, a3, a4, a5, a6], bSets = [b1, b2, b3, b4, b5, b6];
const cSets = [c1, c2, c3, c4, c5, c6], dSets = [d1, d2, d3, d4, d5, d6];
const lab = vals => vals.map(v => [v, String(v)]);

for (let r = 0; r < 6; r++) {
  const t = ROW_T[r], last = r === 5;
  plot({ l: 45, t, w: 162, h: ROW_H },
    aSets[r].map((ys, i) => curve(aX, ys, SPEC[i], i)),
    { x: [0, 900], y: [0, aYmax[r]] },
    { sides: 'tbl', col: '#444', xMaj: [0, 200, 400, 600, 800], xMin: [100, 300, 500, 700],
      yMaj: [0, 1, 2, 3], yMin: [0.5, 1.5, 2.5],
      xLab: last ? lab([0, 200, 400, 600, 800]) : [], yLab: r === 0 ? lab([0, 1, 2, 3]) : lab([0, 1]) });
  plot({ l: 207, t, w: 160, h: ROW_H },
    bSets[r].map((ys, i) => curve(bX, ys, SPEC[i], i)),
    { x: [0, 850], y: [0, 1.63] },
    { sides: 'tbr', col: '#444', xMaj: [200, 400, 600, 800], xMin: [100, 300, 500, 700],
      yMaj: [0, 1], yMin: [0.5, 1.5], yRight: true,
      xLab: last ? lab([200, 400, 600, 800]) : [], yLab: lab([0, 1]) });
  const cds = [zeroLine(50, 900), vline(cPeak, cYr[r])];
  cSets[r].forEach((ys, i) => { if (ys) cds.push(curve(cX, ys, DIFF[i], i === 1 ? 0 : i + 1)); });
  plot({ l: 423, t, w: 102, h: ROW_H }, cds, { x: [0, 1000], y: cYr[r] },
    { sides: 'tbl', col: '#444', xMaj: [0, 200, 400, 600, 800], xMin: [], yMaj: [0], yMin: [],
      xLab: last ? lab([0, 200, 400, 600, 800]) : [], yLab: [[0, '0']], yOff: 6 });
  const dds = [zeroLine(40, 900), vline(dPeak, dYr[r])];
  dSets[r].forEach((ys, i) => { if (ys) dds.push(curve(dX, ys, DIFF[i], i === 1 ? 0 : i + 1)); });
  plot({ l: 525, t, w: 103, h: ROW_H }, dds, { x: [0, 900], y: dYr[r] },
    { sides: 'tb', col: '#444', xMaj: [200, 400, 600, 800], xMin: [],
      xLab: last ? lab([200, 400, 600, 800]) : [] });
}

// ---- panel e ----
const eSq = [[eB1g21, BLUE], [eB1g19, RED], [eB1g16, GREEN], [eB1g14, AQUA], [eB1g12, BLACK]];
const eTr = [[eB2g21, BLUE], [eB2g19, RED], [eB2g16, GREEN], [eB2g14, AQUA], [eB2g12, BLACK], [eB2g10, PURPLE]];
const eRows = [63, 78, 93, 107, 121, 135];
const eMarks = [];
eSq.forEach((s, i) => eMarks.push(['sq', 864, eRows[i], 4.6, s[1], false]));
eTr.forEach((s, i) => eMarks.push(['tri', 923, eRows[i], 5, s[1], true]));
plot({ l: 679, t: 24, w: 289, h: 287 },
  [...band(eBandT, eBandLow, eBandHigh, 30),
   ...eSq.map(s => pointSet(s[0], 'rect', s[1], 6.6, false, 6)),
   ...eTr.map(s => pointSet(s[0], 'triangle', s[1], 6.6, true, 4))],
  { x: [0, 1.156], y: [0, 1.2] },
  { sides: 'lrtb', col: '#222', tl: 5, font: '13px "Liberation Sans"',
    xMaj: [0, 0.2, 0.4, 0.6, 0.8, 1.0], xMin: [0.1, 0.3, 0.5, 0.7, 0.9, 1.1],
    yMaj: [0, 0.2, 0.4, 0.6, 0.8, 1.0], yMin: [0.1, 0.3, 0.5, 0.7, 0.9, 1.1],
    xLab: [[0, '0.0'], [0.2, '0.2'], [0.4, '0.4'], [0.6, '0.6'], [0.8, '0.8'], [1, '1.0']],
    yLab: [[0, '0.0'], [0.2, '0.2'], [0.4, '0.4'], [0.6, '0.6'], [0.8, '0.8'], [1, '1.0']],
    xOff: 6, yOff: 4, marks: eMarks });

// ---- inset (Hg-1201) ----
const hgSq = [[hgB1g25, BLACK], [hgB1g22, RED], [hgB1g16, GREEN], [hgB1g15, BLUE], [hgB1g14, PURPLE], [hgB1g13, YELLOW]];
const hgTr = [[hgB2g25, BLACK], [hgB2g20, RED], [hgB2g18, GREEN], [hgB2g13, YELLOW], [hgB2g08, BROWN]];
const hgRows = [248, 256, 264, 272, 279, 287];
const hgMarks = [];
hgSq.forEach((s, i) => hgMarks.push(['sq', 709, hgRows[i], 3, s[1], false]));
hgTr.forEach((s, i) => hgMarks.push(['tri', 744, hgRows[i], 3.2, s[1], true]));
plot({ l: 699, t: 162, w: 133, h: 135 },
  [...band(hgBandT, hgBandLow, hgBandHigh, 30),
   ...hgSq.map(s => pointSet(s[0], 'rect', s[1], 3.6, false, 6)),
   ...hgTr.map(s => pointSet(s[0], 'triangle', s[1], 3.6, true, 4))],
  { x: [-0.009, 1.168], y: [0.031, 1.086] },
  { sides: 'lb', col: '#222', tl: 4, font: '10px "Liberation Sans"', inset: [76, 56],
    xMaj: [0, 0.5, 1.0], xMin: [0.25, 0.75], yMaj: [0.5, 1.0], yMin: [0.25, 0.75],
    xLab: [[0, '0.0'], [0.5, '0.5'], [1, '1.0']], yLab: [[0.5, '0.5'], [1, '1.0']],
    xOff: 3, yOff: 2, marks: hgMarks });

// ---- panel f ----
plot({ l: 679, t: 358, w: 289, h: 289 },
  [{ data: pts(fFitB1g), borderColor: RED, borderWidth: 1.5, borderDash: [5, 4], pointRadius: 0, fill: false, order: 8 },
   { data: pts(fFitB2g), borderColor: BLUE, borderWidth: 1.5, borderDash: [5, 4], pointRadius: 0, fill: false,
     cubicInterpolationMode: 'monotone', order: 8 },
   pointSet(fBiB1g, 'rect', RED, 6, false, 5),
   pointSet(fBiB2g, 'triangle', BLUE, 6.5, false, 5),
   pointSet(fHgB1g, 'rect', RED, 6, true, 4),
   pointSet(fHgB2g, 'triangle', BLUE, 6.5, true, 3)],
  { x: [0.05, 0.27], y: [0, 100] },
  { sides: 'lrtb', col: '#222', tl: 5, font: '13px "Liberation Sans"',
    xMaj: [0.08, 0.12, 0.16, 0.20, 0.24], xMin: [0.06, 0.10, 0.14, 0.18, 0.22, 0.26],
    yMaj: [0, 20, 40, 60, 80, 100], yMin: [10, 30, 50, 70, 90],
    xLab: [[0.08, '0.08'], [0.12, '0.12'], [0.16, '0.16'], [0.20, '0.20'], [0.24, '0.24']],
    yLab: lab([0, 20, 40, 60, 80, 100]), xOff: 6, yOff: 4,
    marks: [['sq', 847, 399, 4.5, RED, false], ['tri', 847, 420, 5, BLUE, false],
            ['sq', 915, 396, 4.3, RED, true], ['tri', 915, 418, 5, BLUE, true]] });

// ---- dividers ----
const vbar = (x, y, h, w, c) => { const d = document.createElement('div'); d.style.cssText =
  `position:absolute;left:${x}px;top:${y}px;width:${w}px;height:${h}px;background:${c}`; fig.appendChild(d); };
vbar(206, 24, 624, 2, '#8a8a8a');
vbar(524, 24, 624, 1, '#777');

// ---- text ----
const F = 'font-size:';
const SERIF = 'font-family:\'Liberation Serif\'';
txt(51, 28, 'a', F + '17px');
txt(173, 28, 'B' + sub('1g'), F + '20px');
txt(168, 53, '/1.5', F + '15px');
txt(212, 27, 'b', F + '17px');
txt(330, 28, 'B' + sub('2g'), F + '20px');
txt(428, 27, 'c', F + '17px');
txt(497, 28, 'B' + sub('1g'), F + '20px');
txt(529, 27, 'd', F + '17px');
txt(594, 28, 'B' + sub('2g'), F + '20px');

for (let r = 0; r < 6; r++) {
  const t = ROW_T[r];
  txt(249, t + 84, 'p=' + bDoping[r] + '&nbsp;&nbsp;&nbsp;&nbsp;T' + sub('C') + '= ' + bTc[r], F + '14px');
  txt(577, t + 86, 'p=' + dDoping[r], F + '12.5px');
  const temps = aTemps[r];
  if (r === 0) {
    const pos = [[102, 98], [102, 108], [102, 119], [157, 98], [157, 108]];
    temps.forEach((s, i) => {
      vbar(pos[i][0], pos[i][1], 1.5, 19, SPEC[i]);
      txt(pos[i][0] + 24, pos[i][1] - 5, s, F + '10px');
    });
  } else {
    const off = [0, 5, 5, 7, 7, 12][r];
    temps.forEach((s, i) => {
      const y = t + off + i * 10.3;
      vbar(49, y, 1.5, 21, SPEC[i]);
      txt(72, y - 5, s, F + '10px');
    });
  }
}

const omega = '<span style="' + SERIF + ';font-size:22px">ω</span>&nbsp;&nbsp;(cm' + sup('-1') + ')';
[132, 296, 480, 576].forEach(cx => txt(cx, 668, omega, F + '18px;transform:translateX(-50%)'));

// left axis title: two parts
rot(22, 402, '<span style="' + SERIF + '">χ</span>"(ω,T)', F + '21px');
rot(22, 252, '(cts.s' + sup('-1') + '.mW' + sup('-1') + ')', F + '18px;letter-spacing:1.5px');
rot(401, 408, '<span style="' + SERIF + '">χ</span>"(ω,T) - <span style="' + SERIF + '">χ</span>"(ω,T=T' + sub('c') + '+10K)',
    F + '22px;letter-spacing:0.6px');

// e texts
txt(684, 27, 'e', F + '18px');
txt(766, 26, 'Bi-2212', F + '21px');
txt(870, 26, 'B' + sub('1g'), F + '20px');
txt(927, 26, 'B' + sub('2g'), F + '20px');
eDopB1g.forEach((s, i) => txt(882, eRows[i] - 7, s, F + '13px'));
eDopB2g.forEach((s, i) => txt(939, eRows[i] - 7, s, F + '13px'));
txt(790, 325, 'T/T' + sub('c'), F + '24px');
rot(646, 175, 'Normalized&nbsp;&nbsp;&nbsp;&nbsp;Peak&nbsp;&nbsp;&nbsp;&nbsp;Area', F + '19px');
txt(704, 216, 'Hg-1201', F + '11px');
txt(705, 230, 'B' + sub('1g'), F + '9px');
txt(739, 230, 'B' + sub('2g'), F + '9px');
hgDopB1g.forEach((s, i) => txt(719, hgRows[i] - 4, s, F + '8px'));
hgDopB2g.forEach((s, i) => txt(753, hgRows[i] - 4, s, F + '8px'));

// f texts
txt(688, 367, 'f', F + '18px');
txt(840, 367, 'Bi-2212', F + '13px');
txt(910, 367, 'Hg-1201', F + '13px');
txt(863, 392, 'Ω' + sub('B1g'), F + '13px');
txt(863, 413, 'Ω' + sub('B2g'), F + '13px');
txt(932, 389, 'Ω' + sub('B1g'), F + '13px');
txt(932, 411, 'Ω' + sub('B2g'), F + '13px');
txt(823, 667, 'Doping p', F + '17px;transform:translateX(-50%)');
rot(646, 507, 'Energy (meV)', F + '19px');
</script>
</body>
</html>
